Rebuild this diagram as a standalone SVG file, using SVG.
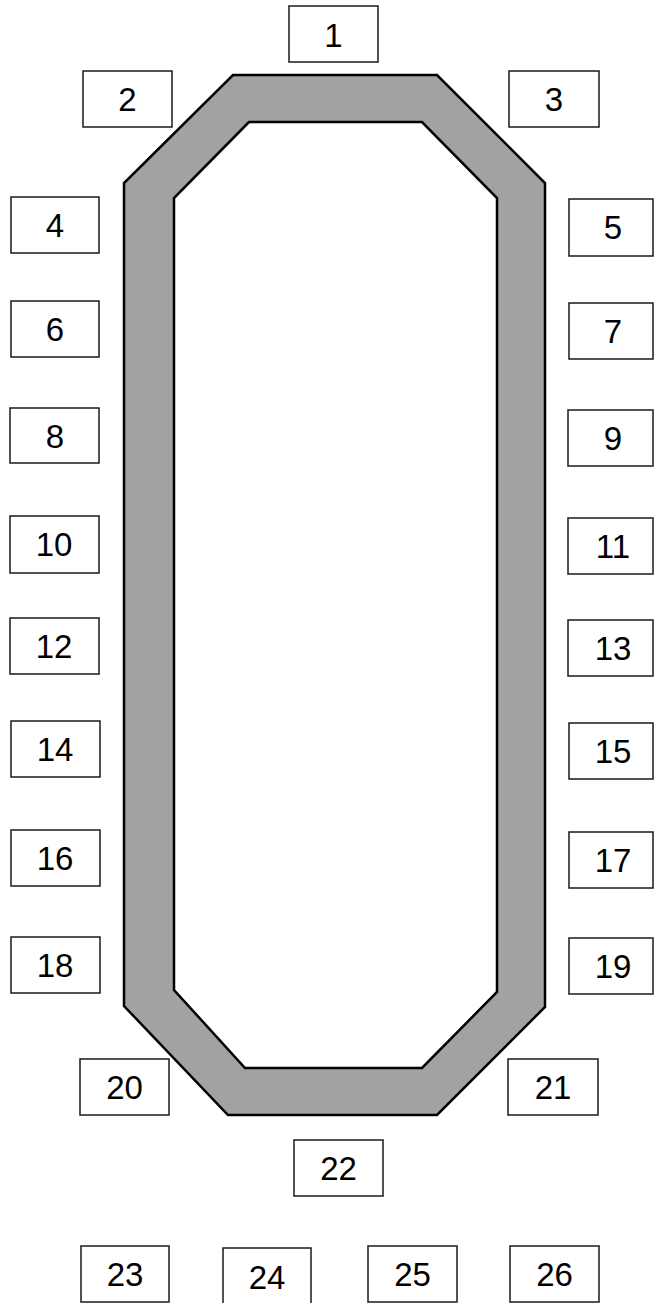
<svg xmlns="http://www.w3.org/2000/svg" width="654" height="1303" viewBox="0 0 654 1303">
<style>
.b{fill:#fff;stroke:#1a1a1a;stroke-width:1.5}
.t{font-family:"Liberation Sans",Arial,sans-serif;font-size:33px;fill:#000;text-anchor:middle}
.ring{fill:#a2a2a2;fill-rule:evenodd;stroke:#000;stroke-width:2.5;stroke-linejoin:miter}
</style>
<rect width="654" height="1303" fill="#fff"/>
<g id="frame">
<path class="ring" d="M233,75 L437,75 L545,183 L545,1007 L437,1115 L228,1115 L124,1006 L124,183 Z M249,122 L174,198 L174,990 L245,1068 L422,1068 L497,992 L497,198 L422,122 Z"/>
</g>
<g id="n1"><rect class="b" x="289" y="6" width="89" height="56"/><text class="t" x="333.5" y="47">1</text></g>
<g id="n2"><rect class="b" x="83" y="71" width="89" height="56"/><text class="t" x="127.5" y="111">2</text></g>
<g id="n3"><rect class="b" x="509" y="71" width="90" height="56"/><text class="t" x="554" y="111">3</text></g>
<g id="n4"><rect class="b" x="11" y="197" width="88" height="56"/><text class="t" x="55" y="237">4</text></g>
<g id="n5"><rect class="b" x="569" y="199" width="84" height="57"/><text class="t" x="613" y="239">5</text></g>
<g id="n6"><rect class="b" x="11" y="301" width="88" height="56"/><text class="t" x="55" y="341">6</text></g>
<g id="n7"><rect class="b" x="569" y="303" width="84" height="56"/><text class="t" x="613" y="343">7</text></g>
<g id="n8"><rect class="b" x="10" y="408" width="89" height="55"/><text class="t" x="55" y="448">8</text></g>
<g id="n9"><rect class="b" x="568" y="410" width="85" height="56"/><text class="t" x="613" y="450">9</text></g>
<g id="n10"><rect class="b" x="10" y="516" width="89" height="57"/><text class="t" x="54" y="556">10</text></g>
<g id="n11"><rect class="b" x="568" y="518" width="85" height="56"/><text class="t" x="613" y="558">11</text></g>
<g id="n12"><rect class="b" x="10" y="618" width="89" height="56"/><text class="t" x="54" y="658">12</text></g>
<g id="n13"><rect class="b" x="568" y="620" width="85" height="56"/><text class="t" x="613" y="660">13</text></g>
<g id="n14"><rect class="b" x="11" y="721" width="89" height="56"/><text class="t" x="55" y="761">14</text></g>
<g id="n15"><rect class="b" x="569" y="723" width="84" height="56"/><text class="t" x="613" y="763">15</text></g>
<g id="n16"><rect class="b" x="11" y="830" width="89" height="56"/><text class="t" x="55" y="870">16</text></g>
<g id="n17"><rect class="b" x="569" y="832" width="84" height="56"/><text class="t" x="613" y="872">17</text></g>
<g id="n18"><rect class="b" x="11" y="937" width="89" height="56"/><text class="t" x="55" y="977">18</text></g>
<g id="n19"><rect class="b" x="569" y="938" width="84" height="56"/><text class="t" x="613" y="978">19</text></g>
<g id="n20"><rect class="b" x="80" y="1059" width="89" height="56"/><text class="t" x="124.5" y="1099">20</text></g>
<g id="n21"><rect class="b" x="508" y="1059" width="90" height="56"/><text class="t" x="553" y="1099">21</text></g>
<g id="n22"><rect class="b" x="294" y="1140" width="89" height="56"/><text class="t" x="338.5" y="1180">22</text></g>
<g id="n23"><rect class="b" x="81" y="1246" width="88" height="56"/><text class="t" x="125" y="1286">23</text></g>
<g id="n24"><rect class="b" x="223" y="1248" width="88" height="56"/><text class="t" x="267" y="1289">24</text></g>
<g id="n25"><rect class="b" x="368" y="1246" width="89" height="56"/><text class="t" x="412.5" y="1286">25</text></g>
<g id="n26"><rect class="b" x="510" y="1246" width="89" height="56"/><text class="t" x="554.5" y="1286">26</text></g>
</svg>
